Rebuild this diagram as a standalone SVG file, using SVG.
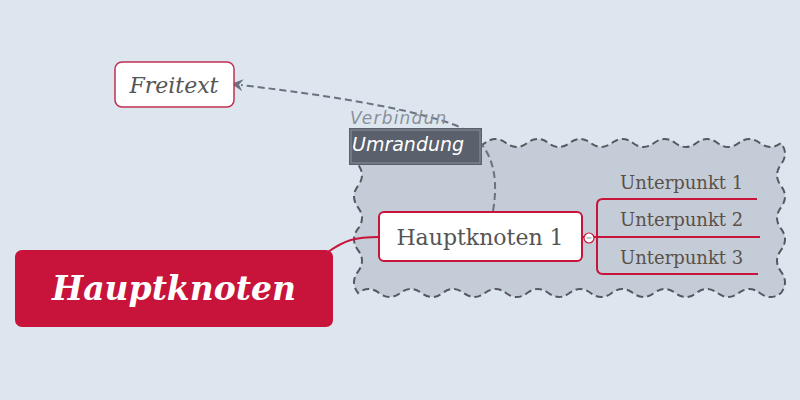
<svg xmlns="http://www.w3.org/2000/svg" width="800" height="400" viewBox="0 0 800 400">
<defs>
<style>
.serif{font-family:"DejaVu Serif","Liberation Serif",serif;}
.sub{font-size:18px;fill:#5a5048;}
.red{stroke:#c8143a;stroke-width:2;fill:none;}
</style>
<marker id="arr" viewBox="0 0 12 12" refX="2" refY="6" markerWidth="12" markerHeight="12" markerUnits="userSpaceOnUse" orient="auto-start-reverse">
<path d="M12,6 L0,0 L4,6 L0,12 Z" fill="#6a7280"/>
</marker>
</defs>
<rect width="800" height="400" fill="#dde6ef"/>
<g id="boundary">
<path d="M358,143 q10.6,-8 21.15,0 t21.15,0 t21.15,0 t21.15,0 t21.15,0 t21.15,0 t21.15,0 t21.15,0 t21.15,0 t21.15,0 t21.15,0 t21.15,0 t21.15,0 t21.15,0 t21.15,0 t21.15,0 t21.15,0 t21.15,0 t21.15,0 t21.15,0 q8,10.7 0,21.43 t0,21.43 t0,21.43 t0,21.43 t0,21.43 t0,21.43 t0,21.43 q-10.6,8 -21.15,0 t-21.15,0 t-21.15,0 t-21.15,0 t-21.15,0 t-21.15,0 t-21.15,0 t-21.15,0 t-21.15,0 t-21.15,0 t-21.15,0 t-21.15,0 t-21.15,0 t-21.15,0 t-21.15,0 t-21.15,0 t-21.15,0 t-21.15,0 t-21.15,0 t-21.15,0 q-8,-10.7 0,-21.43 t0,-21.43 t0,-21.43 t0,-21.43 t0,-21.43 t0,-21.43 t0,-21.43 Z" fill="#c4ccd7" stroke="#55595f" stroke-width="2" stroke-dasharray="7,4"/>
</g>
<g id="connectors">
<path d="M328,252 C345,240 355,237 379,237" class="red"/>
<path d="M493,211 C500,170 490,140 455,125 C400,105 300,92 241,85" fill="none" stroke="#6a7280" stroke-width="2" stroke-dasharray="7,4" marker-end="url(#arr)"/>
<path d="M582,237 H597" class="red"/>
<path d="M757,199 H603 Q597,199 597,205 V268 Q597,274 603,274 H758" class="red"/>
<path d="M597,237 H760" class="red"/>
</g>
<g id="verbindung-label">
<text x="350" y="124" font-family="'DejaVu Sans',sans-serif" font-style="italic" font-size="17" fill="#8a909a" letter-spacing="1.2">Verbindun</text>
</g>
<g id="umrandung-label">
<rect x="349" y="128" width="133" height="37" fill="#5a606c"/>
<rect x="351" y="130" width="129" height="33" fill="none" stroke="#8a909c" stroke-width="1"/>
<text x="352" y="151" font-family="'DejaVu Sans',sans-serif" font-style="italic" font-size="19" fill="#ffffff">Umrandung</text>
</g>
<g id="freitext">
<rect x="115" y="62" width="119" height="45" rx="7" fill="#ffffff" stroke="#c03050" stroke-width="1.5"/>
<text x="174" y="93" text-anchor="middle" class="serif" font-style="italic" font-size="22" fill="#555555">Freitext</text>
</g>
<g id="hauptknoten">
<rect x="15" y="250" width="318" height="77" rx="7" fill="#c8143a"/>
<text x="174" y="300" text-anchor="middle" class="serif" font-style="italic" font-weight="bold" font-size="33" fill="#ffffff">Hauptknoten</text>
</g>
<g id="hauptknoten1">
<rect x="379" y="212" width="203" height="49" rx="5" fill="#ffffff" stroke="#c8143a" stroke-width="2"/>
<text x="480" y="245" text-anchor="middle" class="serif" font-size="22" fill="#555555">Hauptknoten 1</text>
</g>
<g id="collapse">
<circle cx="589" cy="238" r="5" fill="#ffffff" stroke="#c8143a" stroke-width="1.2"/>
<path d="M586.5,238 H591.5" stroke="#8a909a" stroke-width="1"/>
</g>
<g id="unterpunkt1"><text x="620" y="189" class="serif sub">Unterpunkt 1</text></g>
<g id="unterpunkt2"><text x="620" y="226" class="serif sub">Unterpunkt 2</text></g>
<g id="unterpunkt3"><text x="620" y="264" class="serif sub">Unterpunkt 3</text></g>
</svg>
